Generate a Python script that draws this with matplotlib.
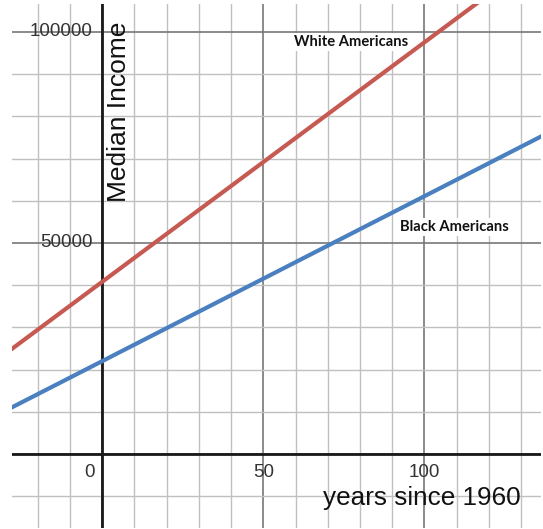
import numpy as np
import matplotlib.pyplot as plt
from matplotlib.ticker import MultipleLocator

# values (years since 1960 vs median income)
years = [-30, 140]
white_income = [23800, 120200]
black_income = [10300, 76700]

x_ticks = [0, 50, 100]
y_ticks = [50000, 100000]

fig = plt.figure(figsize=(5.43, 5.29), dpi=100)
ax = fig.add_axes([12 / 543, 1 / 529, 529 / 543, 524 / 529])
ax.set_xlim(-28.0, 136.2)
ax.set_ylim(-17500, 106600)

# grid: light minor lines, darker major ones
ax.xaxis.set_minor_locator(MultipleLocator(10))
ax.yaxis.set_minor_locator(MultipleLocator(10000))
ax.xaxis.set_major_locator(MultipleLocator(50))
ax.yaxis.set_major_locator(MultipleLocator(50000))
ax.grid(which='minor', color='#c0c0c0', lw=1.0)
ax.grid(which='major', color='#777777', lw=1.2)
ax.set_axisbelow(True)
ax.tick_params(which='both', length=0, labelbottom=False, labelleft=False)
for s in ax.spines.values():
    s.set_visible(False)

ax.axhline(0, color='#1a1a1a', lw=2, zorder=2)
ax.axvline(0, color='#1a1a1a', lw=2, zorder=2)

ax.plot(years, white_income, color='#c65a52', lw=3, solid_capstyle='butt', zorder=3)
ax.plot(years, black_income, color='#4a80c0', lw=3, solid_capstyle='butt', zorder=3)

tick_font = dict(family='Liberation Sans', fontsize=13.5, color='#333333', zorder=4)
for t in x_ticks:
    ax.text(t - 4 if t == 0 else t, -4400, str(t), ha='center', va='center', **tick_font)
for t in y_ticks:
    ax.text(-3.0, t, str(t), ha='right', va='center', **tick_font)

ax.text(5.3, 81000, 'Median Income', rotation=90, ha='center', va='center',
        family='Liberation Sans', fontsize=19, color='#111111', zorder=4)
ax.text(99.2, -10400, 'years since 1960', ha='center', va='center',
        family='Liberation Sans', fontsize=18.8, color='#111111', zorder=4)

box = dict(facecolor='white', edgecolor='none', pad=1.5)
ax.text(77.3, 97600, 'White Americans', ha='center', va='center', fontweight='bold',
        family='Lato', fontsize=10.6, color='#111111', bbox=box, zorder=4)
ax.text(109.3, 53800, 'Black Americans', ha='center', va='center', fontweight='bold',
        family='Lato', fontsize=10.6, color='#111111', bbox=box, zorder=4)

fig.savefig('out.png', dpi=100)
